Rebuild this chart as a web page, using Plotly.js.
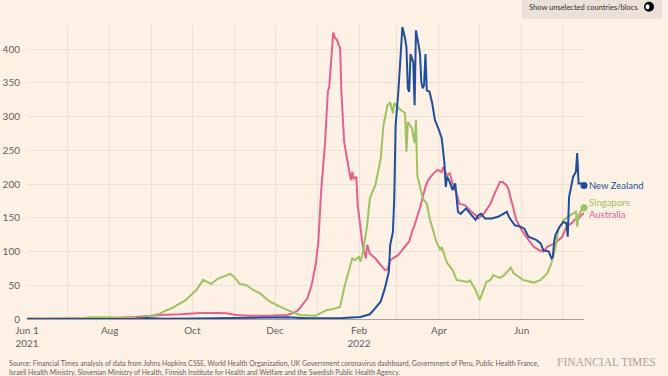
<!DOCTYPE html>
<html>
<head>
<meta charset="utf-8">
<script src="https://cdn.plot.ly/plotly-3.0.1.min.js"></script>
<style>
  html, body { margin: 0; padding: 0; background: #fdf0e5; }
  #chart { width: 668px; height: 376px; }
</style>
</head>
<body>
<div id="chart"></div>
<script>
// ---- Data ----
const nzDates = ['2021-06-01','2021-07-15','2021-08-15','2021-08-20','2021-08-28','2021-09-10','2021-10-01','2021-10-20','2021-11-10','2021-11-25','2021-12-10','2021-12-25','2022-01-10','2022-01-20','2022-02-02','2022-02-09','2022-02-13','2022-02-17','2022-02-20','2022-02-23','2022-02-24','2022-02-26','2022-02-27','2022-02-28','2022-03-02','2022-03-03','2022-03-04','2022-03-05','2022-03-07','2022-03-08','2022-03-09','2022-03-10','2022-03-11','2022-03-12','2022-03-13','2022-03-14','2022-03-15','2022-03-17','2022-03-18','2022-03-19','2022-03-20','2022-03-21','2022-03-22','2022-03-23','2022-03-25','2022-03-27','2022-03-29','2022-04-01','2022-04-03','2022-04-04','2022-04-05','2022-04-06','2022-04-07','2022-04-09','2022-04-11','2022-04-13','2022-04-14','2022-04-15','2022-04-17','2022-04-21','2022-04-23','2022-04-26','2022-04-28','2022-04-30','2022-05-02','2022-05-05','2022-05-10','2022-05-15','2022-05-18','2022-05-21','2022-05-23','2022-05-27','2022-05-31','2022-06-03','2022-06-06','2022-06-10','2022-06-12','2022-06-15','2022-06-17','2022-06-21','2022-06-23','2022-06-24','2022-06-25','2022-06-26','2022-06-29','2022-07-02','2022-07-04','2022-07-05','2022-07-06','2022-07-09','2022-07-11','2022-07-12','2022-07-13','2022-07-15','2022-07-17'];
const nzValues = [0,0,0,0.5,1.5,0.5,0.8,1.5,2.5,3,2.5,1,1,1.5,3,7,16,26,45,70,110,129,179,287,337,376,406,433,416,403,342,337,393,388,381,317,428,406,393,351,342,347,393,339,337,320,295,280,268,250,231,196,211,203,191,201,176,159,156,164,159,152,147,154,156,149,149,152,156,159,150,139,137,134,122,119,117,112,102,100,90,92,115,125,137,144,142,122,181,211,218,246,201,201,198];

const sgDates = ['2021-06-01','2021-06-10','2021-06-25','2021-07-10','2021-07-17','2021-08-01','2021-08-09','2021-08-24','2021-09-01','2021-09-07','2021-09-12','2021-09-16','2021-09-26','2021-10-04','2021-10-09','2021-10-15','2021-10-20','2021-10-26','2021-10-29','2021-11-01','2021-11-05','2021-11-10','2021-11-15','2021-11-20','2021-11-27','2021-12-05','2021-12-10','2021-12-15','2021-12-20','2021-12-25','2021-12-31','2022-01-03','2022-01-08','2022-01-13','2022-01-18','2022-01-21','2022-01-24','2022-01-27','2022-01-29','2022-02-01','2022-02-02','2022-02-04','2022-02-07','2022-02-09','2022-02-12','2022-02-13','2022-02-17','2022-02-19','2022-02-22','2022-02-24','2022-02-26','2022-02-27','2022-03-02','2022-03-07','2022-03-08','2022-03-09','2022-03-12','2022-03-14','2022-03-15','2022-03-16','2022-03-20','2022-03-23','2022-03-25','2022-03-28','2022-03-30','2022-04-02','2022-04-03','2022-04-07','2022-04-11','2022-04-14','2022-04-22','2022-04-24','2022-04-28','2022-05-01','2022-05-03','2022-05-06','2022-05-09','2022-05-11','2022-05-16','2022-05-19','2022-05-24','2022-05-26','2022-06-02','2022-06-10','2022-06-15','2022-06-20','2022-06-23','2022-06-26','2022-06-28','2022-07-02','2022-07-07','2022-07-11','2022-07-12','2022-07-13','2022-07-15','2022-07-17'];
const sgValues = [1,0.3,0.3,0.5,2.5,2.5,1,2,5,8,13,16,28,43,58,52,60,65,67,62,52,50,43,38,26,18,13,9,6,6,5,8,13,15,18,46,70,90,87,92,85,100,139,179,194,198,238,287,317,321,305,320,313,305,248,292,283,261,295,213,179,171,150,127,115,102,107,83,73,58,55,57,43,28,40,55,58,65,61,65,76,68,58,54,58,68,83,107,132,147,154,159,137,154,161,165];

const auDates = ['2021-06-01','2021-07-01','2021-08-01','2021-08-20','2021-09-01','2021-09-07','2021-09-22','2021-10-07','2021-10-19','2021-10-26','2021-11-02','2021-11-12','2021-11-27','2021-12-10','2021-12-15','2021-12-18','2021-12-20','2021-12-25','2021-12-28','2021-12-31','2022-01-02','2022-01-04','2022-01-07','2022-01-09','2022-01-10','2022-01-12','2022-01-13','2022-01-14','2022-01-16','2022-01-17','2022-01-18','2022-01-19','2022-01-21','2022-01-24','2022-01-26','2022-01-27','2022-01-28','2022-01-30','2022-01-31','2022-02-03','2022-02-04','2022-02-06','2022-02-07','2022-02-09','2022-02-13','2022-02-17','2022-02-20','2022-02-22','2022-02-24','2022-02-26','2022-03-02','2022-03-06','2022-03-10','2022-03-12','2022-03-14','2022-03-17','2022-03-18','2022-03-22','2022-03-24','2022-03-28','2022-03-31','2022-04-03','2022-04-04','2022-04-07','2022-04-09','2022-04-11','2022-04-14','2022-04-16','2022-04-20','2022-04-24','2022-04-28','2022-04-30','2022-05-04','2022-05-09','2022-05-12','2022-05-16','2022-05-18','2022-05-21','2022-05-22','2022-05-25','2022-05-28','2022-06-01','2022-06-05','2022-06-10','2022-06-14','2022-06-17','2022-06-20','2022-06-23','2022-06-26','2022-06-28','2022-07-01','2022-07-03','2022-07-05','2022-07-08','2022-07-10','2022-07-13','2022-07-15','2022-07-17'];
const auValues = [0.5,0.5,1.5,3,5,6,7,9,9,8.5,6,5,5,6,9,13,18,31,50,80,115,189,263,337,344,406,425,418,413,406,403,337,263,228,206,218,208,211,169,120,105,90,110,97,90,80,73,73,87,90,95,105,115,129,139,159,165,196,206,216,221,218,225,213,216,201,186,171,169,161,154,149,156,171,186,203,203,198,194,171,147,132,120,107,102,100,107,110,112,117,122,132,139,142,147,149,154,157];

const seriesNames = ['New Zealand', 'Singapore', 'Australia'];
const seriesColors = ['#1f4f9c', '#9ec25f', '#e3628d'];

const monthTicks = ['2021-06-01','2021-07-01','2021-08-01','2021-09-01','2021-10-01','2021-11-01','2021-12-01','2022-01-01','2022-02-01','2022-03-01','2022-04-01','2022-05-01','2022-06-01','2022-07-01'];
const monthLabels = ['Jun 1<br>2021','','Aug','','Oct','','Dec','','Feb<br>2022','','Apr','','Jun',''];
const yTicks = [0,50,100,150,200,250,300,350,400];

const sourceText = 'Source: Financial Times analysis of data from Johns Hopkins CSSE, World Health Organization, UK Government coronavirus dashboard, Government of Peru, Public Health France,<br>Israeli Health Ministry, Slovenian Ministry of Health, Finnish Institute for Health and Welfare and the Swedish Public Health Agency.<br>Data updated: Jul 19 2022 4:59pm BST. Interactive version: ft.com/covid19';

// ---- Traces ----
const allDates = [nzDates, sgDates, auDates];
const allValues = [nzValues, sgValues, auValues];

const traces = [];
// draw order: Australia, Singapore, NZ on top
[2, 1, 0].forEach(i => {
  traces.push({
    type: 'scatter', mode: 'lines',
    x: allDates[i], y: allValues[i],
    name: seriesNames[i],
    line: { color: seriesColors[i], width: 2 },
    hoverinfo: 'skip', showlegend: false
  });
});
[0, 1].forEach(i => {
  const n = allDates[i].length;
  traces.push({
    type: 'scatter', mode: 'markers',
    x: [allDates[i][n - 1]], y: [allValues[i][n - 1]],
    marker: { color: seriesColors[i], size: 7 },
    cliponaxis: false, hoverinfo: 'skip', showlegend: false
  });
});

const labelShift = [0, 5, -1];
const annotations = [0, 1, 2].map(i => ({
  xref: 'paper', yref: 'y', x: 1.005, y: allValues[i][allValues[i].length - 1],
  xanchor: 'left', yanchor: 'middle', yshift: labelShift[i],
  text: seriesNames[i], showarrow: false,
  font: { family: 'Lato, sans-serif', size: 9.5, color: seriesColors[i] }
}));

annotations.push({
  xref: 'paper', yref: 'paper', x: -0.036, y: -0.129,
  xanchor: 'left', yanchor: 'top', align: 'left',
  text: sourceText, showarrow: false,
  font: { family: 'Lato, sans-serif', size: 6.8, color: '#66605c' }
});
annotations.push({
  xref: 'paper', yref: 'paper', x: 1.04, y: -0.147,
  xanchor: 'center', yanchor: 'middle',
  text: 'FINANCIAL TIMES', showarrow: false,
  font: { family: 'Liberation Serif, serif', size: 11.5, color: '#aaa29b' }
});
annotations.push({
  xref: 'paper', yref: 'paper', x: 0.8985, y: 1.058,
  xanchor: 'left', yanchor: 'middle',
  text: 'Show unselected countries/blocs', showarrow: false,
  font: { family: 'Lato, sans-serif', size: 7.5, color: '#33302e' }
});

const shapes = [
  { type: 'rect', xref: 'paper', yref: 'paper', x0: 0.8887, x1: 1.14, y0: 1.02, y1: 1.1,
    fillcolor: '#ebe1d8', line: { width: 0 }, layer: 'below' },
  { type: 'circle', xref: 'paper', yref: 'paper', xsizemode: 'pixel', ysizemode: 'pixel',
    xanchor: 1.1167, yanchor: 1.062, x0: -5, x1: 5, y0: -5, y1: 5,
    fillcolor: '#000000', line: { width: 0 } },
  { type: 'circle', xref: 'paper', yref: 'paper', xsizemode: 'pixel', ysizemode: 'pixel',
    xanchor: 1.1167, yanchor: 1.062, x0: -3.5, x1: 0.5, y0: -2.5, y1: 2.5,
    fillcolor: '#ffffff', line: { width: 0 } }
];

const layout = {
  width: 668, height: 376,
  margin: { l: 27, r: 84, t: 25, b: 57, pad: 0 },
  paper_bgcolor: '#fdf0e5', plot_bgcolor: '#fdf0e5',
  font: { family: 'Lato, sans-serif', color: '#66605c', size: 10 },
  xaxis: {
    type: 'date', range: ['2021-06-01', '2022-07-17'],
    tickmode: 'array', tickvals: monthTicks, ticktext: monthLabels,
    showgrid: true, gridcolor: '#ebe0d6', gridwidth: 1,
    showline: true, linecolor: '#a9a09a', linewidth: 1,
    ticks: '', zeroline: false, fixedrange: true,
    ticklabelstandoff: 2,
    tickfont: { size: 10, color: '#66605c' }
  },
  yaxis: {
    range: [0, 436], tickmode: 'array', tickvals: yTicks,
    showgrid: true, gridcolor: '#ebe0d6', gridwidth: 1,
    zeroline: false, showline: false, ticks: '',
    ticklabelstandoff: 6, fixedrange: true,
    tickfont: { size: 10, color: '#66605c' }
  },
  showlegend: false,
  annotations: annotations,
  shapes: shapes
};

Plotly.newPlot('chart', traces, layout, { displayModeBar: false, staticPlot: true });
</script>
</body>
</html>
